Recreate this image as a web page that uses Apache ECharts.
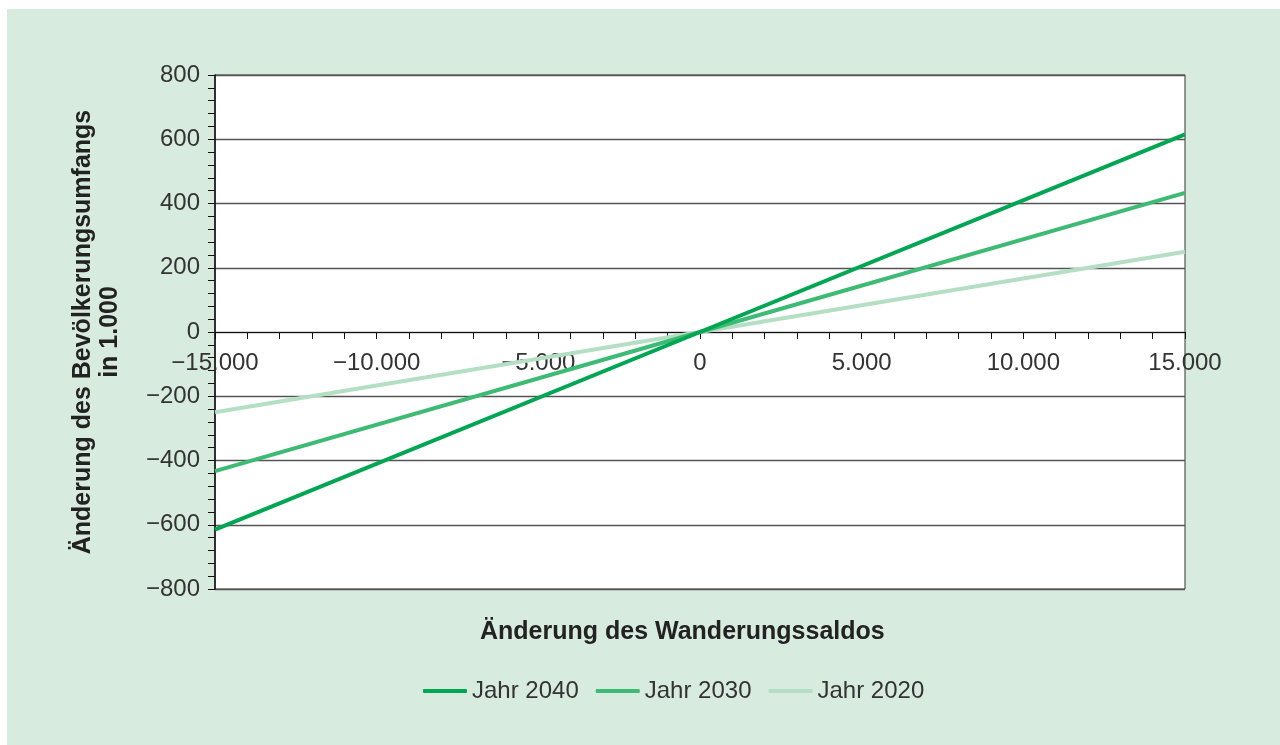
<!DOCTYPE html>
<html>
<head>
<meta charset="utf-8">
<script src="https://cdn.jsdelivr.net/npm/echarts@6/dist/echarts.min.js"></script>
<style>
html,body{margin:0;padding:0;background:#fff;width:1280px;height:745px;overflow:hidden;}
#chart{position:absolute;left:7px;top:9px;width:1273px;height:736px;}
</style>
</head>
<body>
<div id="chart"></div>
<script>
const xValues = [-15000, 0, 15000];
const seriesNames = ['Jahr 2040', 'Jahr 2030', 'Jahr 2020'];
const values2040 = [-615, 0, 615];
const values2030 = [-433, 0, 433];
const values2020 = [-250, 0, 250];
const xAxisTitle = 'Änderung des Wanderungssaldos';
const yAxisTitle = 'Änderung des Bevölkerungsumfangs\nin 1.000';

const colors = ['#00a651', '#3dba73', '#b5dfc4'];
const allValues = [values2040, values2030, values2020];

function fmt(v) {
  const a = Math.abs(v);
  const s = String(a).replace(/\B(?=(\d{3})+(?!\d))/g, '.');
  return (v < 0 ? '\u2212' : '') + s;
}

const chart = echarts.init(document.getElementById('chart'));
const FONT = 'Liberation Sans, Arial, sans-serif';
const GRID_H = 514;
chart.setOption({
  backgroundColor: '#d8ebdf',
  animation: false,
  color: colors,
  grid: {
    left: 208, top: 66, width: 970, height: GRID_H,
    show: true, backgroundColor: '#ffffff', borderColor: '#333', borderWidth: 1
  },
  legend: {
    top: 665,
    left: 411,
    icon: 'roundRect',
    itemWidth: 44,
    itemHeight: 4,
    itemGap: 17,
    textStyle: { fontFamily: FONT, fontSize: 24, color: '#333' },
    data: seriesNames
  },
  graphic: [{
    type: 'text',
    left: 473,
    top: 611,
    style: { text: xAxisTitle, font: 'bold 25px ' + FONT, fill: '#222' }
  }],
  xAxis: {
    type: 'value',
    position: 'bottom',
    offset: -GRID_H / 2,
    min: -15000, max: 15000, interval: 5000,
    axisLine: { onZero: false, lineStyle: { color: '#111', width: 1.2 } },
    axisTick: { show: true, length: 7, lineStyle: { color: '#111' } },
    minorTick: { show: true, splitNumber: 5, length: 7, lineStyle: { color: '#111' } },
    splitLine: { show: false },
    axisLabel: { fontFamily: FONT, fontSize: 24, color: '#333', margin: 19, formatter: fmt }
  },
  yAxis: {
    type: 'value',
    min: -800, max: 800, interval: 200,
    name: yAxisTitle,
    nameLocation: 'middle',
    nameGap: 91,
    nameTextStyle: { fontFamily: FONT, fontSize: 25, fontWeight: 'bold', color: '#222', lineHeight: 27 },
    axisLine: { show: true, onZero: false, lineStyle: { color: '#111', width: 1.5 } },
    axisTick: { show: true, length: 7, lineStyle: { color: '#111' } },
    minorTick: { show: true, splitNumber: 5, length: 7, lineStyle: { color: '#111' } },
    splitLine: { show: true, lineStyle: { color: '#555', width: 1.3 } },
    axisLabel: { fontFamily: FONT, fontSize: 24, color: '#333', margin: 15, formatter: fmt }
  },
  series: seriesNames.map((n, i) => ({
    name: n,
    type: 'line',
    showSymbol: false,
    symbol: 'none',
    lineStyle: { width: 4, color: colors[i] },
    itemStyle: { color: colors[i] },
    z: 10 - i,
    data: xValues.map((x, j) => [x, allValues[i][j]])
  }))
});
</script>
</body>
</html>
